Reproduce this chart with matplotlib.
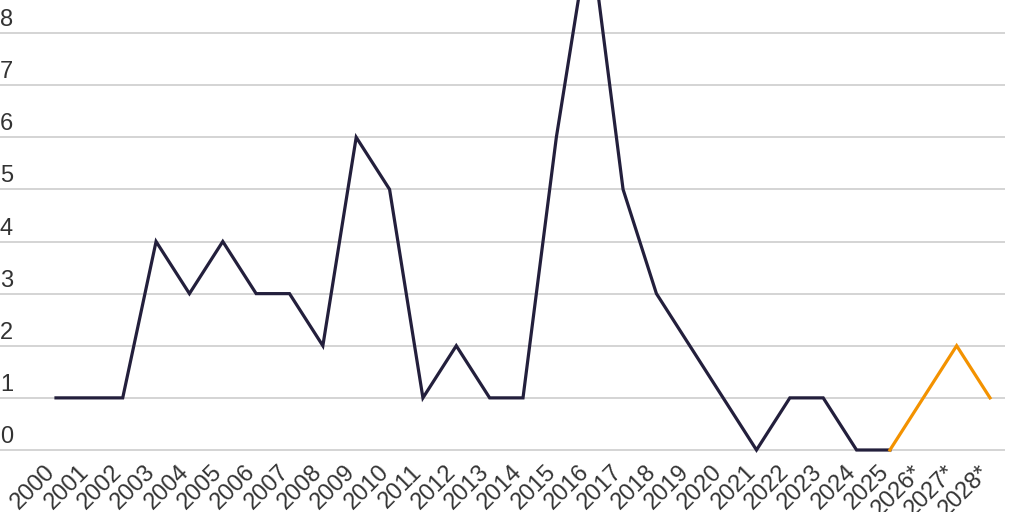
import numpy as np
import matplotlib
matplotlib.use('Agg')
import matplotlib.pyplot as plt
import matplotlib.transforms as mtransforms

plt.rcParams['font.family'] = ['Liberation Sans', 'DejaVu Sans']

#%% data
years = ['2000', '2001', '2002', '2003', '2004', '2005', '2006', '2007', '2008', '2009',
         '2010', '2011', '2012', '2013', '2014', '2015', '2016', '2017', '2018', '2019',
         '2020', '2021', '2022', '2023', '2024', '2025', '2026*', '2027*', '2028*']
actual = [1, 1, 1, 4, 3, 4, 3, 3, 2, 6, 5, 1, 2, 1, 1, 6, 10, 5, 3, 2, 1, 0, 1, 1, 0, 0]
forecast = [0, 1, 2, 1]   # from 2025 onwards
y_ticks = [0, 1, 2, 3, 4, 5, 6, 7, 8]

#%% plot
fig = plt.figure(figsize=(10.24, 5.12), dpi=100)
ax = fig.add_axes([0, 52/512, 1005/1024, 460/512])

x_act = np.arange(len(actual))
x_fc = np.arange(len(actual) - 1, len(actual) - 1 + len(forecast))
ax.plot(x_act, actual, color='#231f3c', lw=2.3, solid_joinstyle='miter', zorder=3)
ax.plot(x_fc, forecast, color='#f39200', lw=2.3, solid_joinstyle='miter', zorder=3)

step = 33.357
ax.set_xlim(-56/step, 949/step)
ax.set_ylim(-10/52.125, 450/52.125)

for t in y_ticks:
    ax.axhline(t, color='#d4d4d4', lw=1.4, zorder=1)
    ax.annotate(str(t), xy=(0, t), xycoords=('axes fraction', 'data'),
                xytext=(0, 5), textcoords='offset points',
                ha='left', va='baseline', fontsize=17, color='#333333')

ax.set_yticks([])
ax.set_xticks(np.arange(len(years)))
ax.set_xticklabels(years, rotation=45, ha='right', va='center', rotation_mode='anchor',
                   fontsize=17, color='#333333')
ax.tick_params(axis='x', length=0, pad=6.5)
shift = mtransforms.ScaledTranslation(-4/100, 0, fig.dpi_scale_trans)
for lab in ax.get_xticklabels():
    lab.set_transform(lab.get_transform() + shift)
for s in ax.spines.values():
    s.set_visible(False)

fig.savefig('out.png', dpi=100)
